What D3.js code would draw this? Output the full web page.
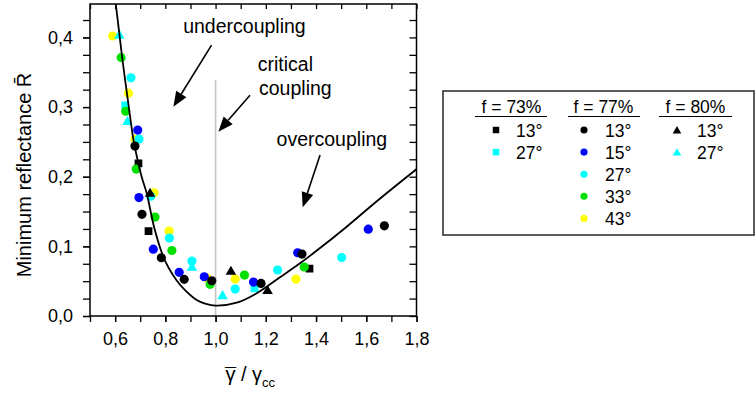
<!DOCTYPE html>
<html>
<head>
<meta charset="utf-8">
<script src="https://cdn.jsdelivr.net/npm/d3@7"></script>
<style>
  body { margin: 0; background: #ffffff; }
  text { font-family: "Liberation Sans", Arial, sans-serif; fill: #000; }
</style>
</head>
<body>
<script>
// ---------- data ----------
// f = 73 %
const f73_13 = [[0.693, 0.219], [0.733, 0.122], [1.374, 0.068]];
const f73_27 = [[0.640, 0.3025], [1.155, 0.0397]];
// f = 77 %
const f77_13 = [[0.679, 0.244], [0.707, 0.146], [0.784, 0.0836], [0.875, 0.0526], [0.985, 0.0506], [1.181, 0.0468], [1.344, 0.0889], [1.672, 0.1295]];
const f77_15 = [[0.690, 0.267], [0.695, 0.170], [0.752, 0.096], [0.855, 0.0627], [0.955, 0.0564], [1.151, 0.0487], [1.327, 0.0908], [1.608, 0.1247]];
const f77_27 = [[0.663, 0.342], [0.695, 0.254], [0.742, 0.172], [0.816, 0.112], [0.906, 0.0789], [1.078, 0.0387], [1.247, 0.066], [1.502, 0.084]];
const f77_33 = [[0.624, 0.371], [0.642, 0.294], [0.684, 0.211], [0.759, 0.142], [0.826, 0.094], [0.978, 0.0454], [1.115, 0.0588], [1.353, 0.0703]];
const f77_43 = [[0.590, 0.402], [0.653, 0.320], [0.679, 0.254], [0.755, 0.177], [0.815, 0.122], [0.968, 0.054], [1.078, 0.053], [1.320, 0.053]];
// f = 80 %
const f80_13 = [[0.739, 0.177], [1.061, 0.065], [1.207, 0.0373]];
const f80_27 = [[0.617, 0.404], [0.649, 0.280], [0.906, 0.0707], [1.028, 0.030]];

// theoretical curve
const curveX = [0.6015, 0.6103, 0.6294, 0.6525, 0.6732, 0.6923, 0.7070, 0.7258, 0.7548, 0.7907, 0.8146, 0.8452, 0.8715, 0.9248, 0.9579, 1.0005, 1.0841, 1.1637, 1.2565, 1.3361, 1.3891, 1.5221, 1.6479, 1.8008];
const curveY = [0.4509, 0.4251, 0.3676, 0.3054, 0.2527, 0.2197, 0.1982, 0.1762, 0.1282, 0.0862, 0.0682, 0.0510, 0.0398, 0.0230, 0.0179, 0.0148, 0.0191, 0.0326, 0.0556, 0.0757, 0.0900, 0.1282, 0.1666, 0.2111];

// critical-coupling marker line
const criticalX = 1.0;
const criticalTop = 0.339;

// ticks
const xTicks = [0.6, 0.8, 1.0, 1.2, 1.4, 1.6, 1.8];
const xTickLabels = ["0,6", "0,8", "1,0", "1,2", "1,4", "1,6", "1,8"];
const yTicks = [0.0, 0.1, 0.2, 0.3, 0.4];
const yTickLabels = ["0,0", "0,1", "0,2", "0,3", "0,4"];

// legend
const legendTitles = ["f = 73%", "f = 77%", "f = 80%"];
const legendAngles73 = ["13°", "27°"];
const legendAngles77 = ["13°", "15°", "27°", "33°", "43°"];
const legendAngles80 = ["13°", "27°"];

// ---------- styling / series definitions ----------
const BLACK = "#000000", BLUE = "#0000ff", CYAN = "#00ffff", GREEN = "#00e000", YELLOW = "#ffff00";
const series = [
  { data: f73_13, shape: "square", color: BLACK },
  { data: f73_27, shape: "square", color: CYAN },
  { data: f77_43, shape: "circle", color: YELLOW },
  { data: f77_33, shape: "circle", color: GREEN },
  { data: f77_27, shape: "circle", color: CYAN },
  { data: f77_15, shape: "circle", color: BLUE },
  { data: f77_13, shape: "circle", color: BLACK },
  { data: f80_13, shape: "triangle", color: BLACK },
  { data: f80_27, shape: "triangle", color: CYAN }
];

const W = 756, H = 393;
const svg = d3.select("body").append("svg").attr("width", W).attr("height", H);

const x = d3.scaleLinear().domain([0.5, 1.8]).range([90, 416.5]);
const y = d3.scaleLinear().domain([0, 0.448]).range([316, 4]);

function symbolPath(shape, big) {
  if (shape === "circle") return d3.symbol(d3.symbolCircle, big ? 66 : 40)();
  if (shape === "square") return d3.symbol(d3.symbolSquare, big ? 60 : 42)();
  return d3.symbol(d3.symbolTriangle, big ? 48 : 32)();
}

// clip
svg.append("clipPath").attr("id", "plotclip")
  .append("rect").attr("x", x(0.5)).attr("y", y(0.448))
  .attr("width", x(1.8) - x(0.5)).attr("height", y(0) - y(0.448));

// critical line
svg.append("line")
  .attr("x1", x(criticalX)).attr("x2", x(criticalX))
  .attr("y1", y(criticalTop)).attr("y2", y(0))
  .attr("stroke", "#c4c4c4").attr("stroke-width", 1.6);

// markers
const plot = svg.append("g").attr("clip-path", "url(#plotclip)");
series.forEach(s => {
  plot.append("g").selectAll("path").data(s.data).join("path")
    .attr("d", symbolPath(s.shape, true))
    .attr("transform", d => `translate(${x(d[0])},${y(d[1]) + (s.shape === "triangle" ? 1 : 0)})`)
    .attr("fill", s.color);
});

// curve
const curvePts = curveX.map((v, i) => [v, curveY[i]]);
plot.append("path")
  .attr("d", d3.line().x(d => x(d[0])).y(d => y(d[1])).curve(d3.curveCatmullRom.alpha(0.5))(curvePts))
  .attr("fill", "none").attr("stroke", "#000").attr("stroke-width", 1.8);

// axes
const axisStyle = g => {
  g.select(".domain").remove();
  g.selectAll(".tick line").attr("stroke", "#000").attr("stroke-width", 1.3);
  g.selectAll("text").style("font-size", "18px").attr("fill", "#000")
    .style("font-family", '"Liberation Sans", Arial, sans-serif');
};
const xMinor = d3.range(5, 19).map(v => v / 10);
const yMinor = d3.range(0, 18).map(v => v * 0.025);

svg.append("g").attr("transform", `translate(0,${y(0)})`)
  .call(d3.axisBottom(x).tickValues(xMinor).tickSize(6).tickFormat("")).call(axisStyle);
svg.append("g").attr("transform", `translate(0,${y(0)})`)
  .call(d3.axisBottom(x).tickValues(xTicks).tickSize(6).tickPadding(10).tickFormat((d, i) => xTickLabels[i])).call(axisStyle);
svg.append("g").attr("transform", `translate(0,${y(0.448)})`)
  .call(d3.axisTop(x).tickValues(xMinor).tickSize(-5).tickFormat("")).call(axisStyle);
svg.append("g").attr("transform", `translate(${x(0.5)},0)`)
  .call(d3.axisLeft(y).tickValues(yMinor).tickSize(7).tickFormat("")).call(axisStyle);
svg.append("g").attr("transform", `translate(${x(0.5)},0)`)
  .call(d3.axisLeft(y).tickValues(yTicks).tickSize(7).tickPadding(10).tickFormat((d, i) => yTickLabels[i])).call(axisStyle);
svg.append("g").attr("transform", `translate(${x(1.8)},0)`)
  .call(d3.axisRight(y).tickValues(yMinor).tickSize(-7).tickFormat("")).call(axisStyle);

// frame
svg.append("rect")
  .attr("x", x(0.5)).attr("y", y(0.448))
  .attr("width", x(1.8) - x(0.5)).attr("height", y(0) - y(0.448))
  .attr("fill", "none").attr("stroke", "#000").attr("stroke-width", 1.5);

// axis titles
svg.append("text")
  .attr("transform", `translate(31,175) rotate(-90)`)
  .attr("text-anchor", "middle").style("font-size", "20px")
  .text("Minimum reflectance R\u0304");

const xt = svg.append("text").attr("x", 250).attr("y", 381)
  .attr("text-anchor", "middle").style("font-size", "20px");
const tG = xt.append("tspan").text("\u03B3");
const tM = xt.append("tspan").text("\u00AF");
const tR = xt.append("tspan").text(" / \u03B3");
xt.append("tspan").attr("dy", 6).style("font-size", "13px").text("cc");
const gw = tG.node().getComputedTextLength();
const mw = tM.node().getComputedTextLength();
tM.attr("dx", -(gw + mw) / 2).attr("dy", 1);
tR.attr("dx", (gw - mw) / 2).attr("dy", -1);

// annotations
const annotations = [
  { text: "undercoupling", x: 0.871, y: 0.406 },
  { text: "critical", x: 1.168, y: 0.352 },
  { text: "coupling", x: 1.173, y: 0.318 },
  { text: "overcoupling", x: 1.243, y: 0.2446 }
];
const arrows = [
  { x1: 0.984, y1: 0.389, x2: 0.832, y2: 0.3005 },
  { x1: 1.137, y1: 0.317, x2: 1.011, y2: 0.2647 },
  { x1: 1.416, y1: 0.2312, x2: 1.347, y2: 0.156 }
];
annotations.forEach(a => {
  svg.append("text").attr("x", x(a.x)).attr("y", y(a.y))
    .style("font-size", "19.5px").text(a.text);
});
arrows.forEach(a => {
  const X1 = x(a.x1), Y1 = y(a.y1), X2 = x(a.x2), Y2 = y(a.y2);
  const ang = Math.atan2(Y2 - Y1, X2 - X1);
  const L = 15, Wd = 6;
  const bx = X2 - L * Math.cos(ang), by = Y2 - L * Math.sin(ang);
  svg.append("line").attr("x1", X1).attr("y1", Y1).attr("x2", bx).attr("y2", by)
    .attr("stroke", "#000").attr("stroke-width", 1.6);
  const px = -Math.sin(ang) * Wd, py = Math.cos(ang) * Wd;
  svg.append("path")
    .attr("d", `M${X2},${Y2}L${bx + px},${by + py}L${bx - px},${by - py}Z`)
    .attr("fill", "#000");
});

// legend
const lg = svg.append("g");
lg.append("rect").attr("x", 443).attr("y", 91).attr("width", 311).attr("height", 144)
  .attr("fill", "#fff").attr("stroke", "#333").attr("stroke-width", 1.6);
const legendCols = [
  { title: legendTitles[0], cx: 511.5, ux1: 475, ux2: 547, mx: 496, tx: 516, items: legendAngles73.map((t, i) => ({ t, shape: "square", color: [BLACK, CYAN][i] })) },
  { title: legendTitles[1], cx: 603.5, ux1: 568, ux2: 640, mx: 584, tx: 605, items: legendAngles77.map((t, i) => ({ t, shape: "circle", color: [BLACK, BLUE, CYAN, GREEN, YELLOW][i] })) },
  { title: legendTitles[2], cx: 695.5, ux1: 659, ux2: 732, mx: 677, tx: 697, items: legendAngles80.map((t, i) => ({ t, shape: "triangle", color: [BLACK, CYAN][i] })) }
];
legendCols.forEach(c => {
  lg.append("text").attr("x", c.cx).attr("y", 113).attr("text-anchor", "middle")
    .style("font-size", "17.5px").text(c.title);
  lg.append("line").attr("x1", c.ux1).attr("x2", c.ux2).attr("y1", 116.5).attr("y2", 116.5)
    .attr("stroke", "#000").attr("stroke-width", 1.2);
  c.items.forEach((it, i) => {
    const cy = 130 + i * 22.1;
    lg.append("path").attr("d", symbolPath(it.shape, false))
      .attr("transform", `translate(${c.mx},${cy + (it.shape === "triangle" ? 1 : 0)})`)
      .attr("fill", it.color);
    lg.append("text").attr("x", c.tx).attr("y", cy + 6.5)
      .style("font-size", "17.5px").text(it.t);
  });
});
</script>
</body>
</html>
